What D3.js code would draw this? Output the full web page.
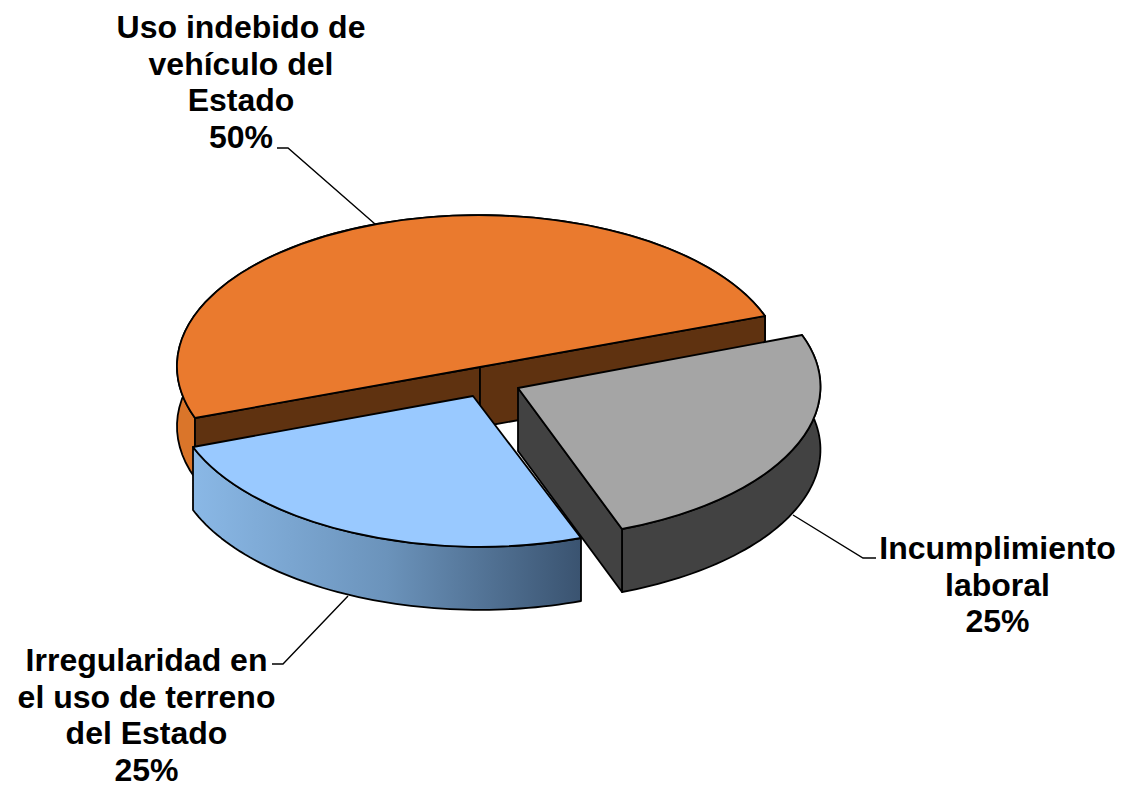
<!DOCTYPE html>
<html>
<head>
<meta charset="utf-8">
<script src="https://d3js.org/d3.v7.min.js"></script>
<style>
    html, body { margin: 0; padding: 0; background: #fff; overflow: hidden; }
    text { font-family: "Liberation Sans", Arial, sans-serif; font-weight: bold; font-size: 32px; fill: #000; }
</style>
</head>
<body>
<div id="chart"></div>
<script>
// clockwise from the left end of the orange slice
var categories = ["Uso indebido de vehículo del Estado", "Incumplimiento laboral", "Irregularidad en el uso de terreno del Estado"];
var values = [50, 25, 25];
var labelLines = [
    ["Uso indebido de", "vehículo del", "Estado"],
    ["Incumplimiento", "laboral"],
    ["Irregularidad en", "el uso de terreno", "del Estado"]
];

var width = 1122, height = 785;

// each slice is exploded and tilted on its own: c = apex, e/f = two perpendicular radii on screen
var sliceLayout = [
    { c: [480, 367], e: [285, -51], f: [103, 143], depth: 60, top: "#ea7a2e", wall: "#da752a", inner: "#5f3210" },
    { c: [518, 388], e: [284, -53], f: [104, 141], depth: 63, top: "#a5a5a5", wall: "#424242", inner: "#424242" },
    { c: [473, 396], e: [280, -51], f: [108, 142], depth: 63, top: "#99c9ff", wall: "url(#blueWall)", inner: "#3b5470" }
];

var labelLayout = [
    { x: 241, y: 38, leader: [[277, 148], [288, 148], [375, 224]] },
    { x: 997.5, y: 559, leader: [[876, 558], [863, 558], [793, 515]] },
    { x: 146.5, y: 671, leader: [[272, 664], [283, 664], [348, 596]] }
];
var lineHeight = 36.7;
var strokeWidth = 1.8;

var svg = d3.select("#chart")
    .append("svg")
    .attr("width", width)
    .attr("height", height)
    .attr("viewBox", "0 0 " + width + " " + height);

var gradient = svg.append("defs").append("linearGradient")
    .attr("id", "blueWall")
    .attr("x1", 0).attr("x2", 1).attr("y1", 0).attr("y2", 0);
gradient.append("stop").attr("offset", "0%").attr("stop-color", "#8ab8e6");
gradient.append("stop").attr("offset", "50%").attr("stop-color", "#6b93bb");
gradient.append("stop").attr("offset", "100%").attr("stop-color", "#3a5370");

// start at the left end so the orange half runs over the back
var pie = d3.pie().sort(null).startAngle(Math.PI).endAngle(3 * Math.PI);
var arcs = pie(values);

var unitArc = d3.arc().innerRadius(0).outerRadius(1);
var line = d3.line();

// same mapping as the matrix() on the top faces
function project(s, angle, drop) {
    var X = Math.sin(angle), Y = -Math.cos(angle);
    return [
        s.c[0] + s.f[0] * X - s.e[0] * Y,
        s.c[1] + s.f[1] * X - s.e[1] * Y + (drop || 0)
    ];
}

function wallPath(s, d) {
    var steps = d3.range(0, 61).map(function (i) {
        return d.startAngle + (d.endAngle - d.startAngle) * i / 60;
    });
    var upper = steps.map(function (a) { return project(s, a, 0); });
    var lower = steps.slice().reverse().map(function (a) { return project(s, a, s.depth); });
    return line(upper.concat(lower)) + "Z";
}

function innerPath(s, angle) {
    var edge = project(s, angle, 0), edgeLow = project(s, angle, s.depth);
    return line([s.c, edge, edgeLow, [s.c[0], s.c[1] + s.depth]]) + "Z";
}

function drawSlice(i, innerAngles) {
    var s = sliceLayout[i], d = arcs[i];
    var g = svg.append("g").attr("class", "slice");

    g.append("path")
        .attr("d", wallPath(s, d))
        .attr("fill", s.wall)
        .attr("stroke", "#000")
        .attr("stroke-width", strokeWidth)
        .attr("stroke-linejoin", "round");

    innerAngles.forEach(function (a) {
        g.append("path")
            .attr("d", innerPath(s, a))
            .attr("fill", s.inner)
            .attr("stroke", "#000")
            .attr("stroke-width", strokeWidth)
            .attr("stroke-linejoin", "round");
    });

    g.append("path")
        .attr("d", unitArc(d))
        .attr("transform", "matrix(" + [s.f[0], s.f[1], -s.e[0], -s.e[1], s.c[0], s.c[1]].join(",") + ")")
        .attr("fill", s.top)
        .attr("stroke", "#000")
        .attr("stroke-width", strokeWidth)
        .attr("stroke-linejoin", "round")
        .attr("vector-effect", "non-scaling-stroke");
}

// leaders go under the pie so they stop at its edge
svg.selectAll(".leader")
    .data(labelLayout)
    .enter()
    .append("path")
    .attr("class", "leader")
    .attr("d", function (d) { return line(d.leader); })
    .attr("fill", "none")
    .attr("stroke", "#000")
    .attr("stroke-width", 1.4);

// back to front
drawSlice(0, [arcs[0].startAngle, arcs[0].endAngle]);
drawSlice(2, []);
drawSlice(1, [arcs[1].endAngle]);

var total = d3.sum(values);
var labels = svg.selectAll(".label")
    .data(labelLayout)
    .enter()
    .append("text")
    .attr("class", "label")
    .attr("text-anchor", "middle")
    .attr("y", function (d) { return d.y; });

labels.each(function (d, i) {
    var rows = labelLines[i].concat([d3.format(".0%")(values[i] / total)]);
    d3.select(this).selectAll("tspan")
        .data(rows)
        .enter()
        .append("tspan")
        .attr("x", d.x)
        .attr("y", function (r, j) { return d.y + j * lineHeight; })
        .text(function (r) { return r; });
});
</script>
</body>
</html>
